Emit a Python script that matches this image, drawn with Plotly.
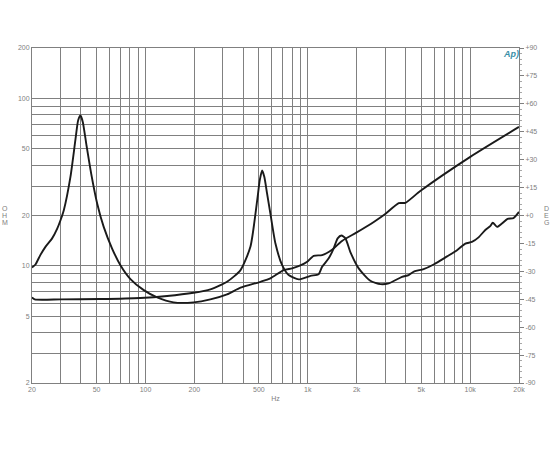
import plotly.graph_objects as go

freq_a = [20, 21, 22.5, 24.2, 26.6, 28.6, 30, 31.4, 34.5, 37, 38.5, 39.8, 41.1, 43.3, 46.3, 50.4, 55.3, 62.3, 70.1, 80.8, 97.6, 118, 149, 198, 251, 318, 385, 511, 588, 710, 800, 900, 991, 1087, 1225, 1410, 1625, 1990, 2550, 3000, 3630, 3990, 4930, 10020, 20000]
ohm_a = [9.8, 10.2, 11.6, 13.0, 14.6, 16.7, 18.8, 21.5, 34, 56.3, 74, 79, 72.4, 52.6, 35.6, 23.6, 17.1, 12.7, 10.1, 8.35, 7.17, 6.49, 6.06, 6.06, 6.31, 6.76, 7.41, 8.04, 8.43, 9.44, 9.67, 10.07, 10.6, 11.5, 11.6, 12.5, 14.1, 15.8, 18.3, 20.4, 23.7, 23.8, 28, 44.8, 67.6]

freq_b = [20, 20.8, 30, 52.8, 93, 136, 198, 251, 318, 385, 443, 488, 506, 523, 540, 561, 588, 632, 695, 762, 879, 1038, 1167, 1225, 1345, 1442, 1527, 1610, 1705, 1829, 2058, 2427, 2800, 3150, 3810, 4180, 4530, 5170, 5960, 7210, 8300, 9340, 10260, 11270, 12400, 13300, 13800, 14650, 15700, 17000, 18500, 20000]
ohm_b = [6.49, 6.31, 6.31, 6.34, 6.43, 6.61, 6.91, 7.24, 8.04, 9.44, 13, 24.7, 32.5, 37.1, 34, 27.1, 20.6, 13.6, 10.1, 8.82, 8.31, 8.73, 8.93, 9.88, 11.1, 12.7, 14.6, 15.2, 14.6, 12.1, 9.67, 8.15, 7.79, 7.87, 8.61, 8.82, 9.27, 9.57, 10.2, 11.4, 12.4, 13.6, 13.9, 14.8, 16.4, 17.3, 18.1, 17.1, 17.9, 19.1, 19.3, 21]

x_grid = [20, 30, 40, 50, 60, 70, 80, 90, 100, 200, 300, 400, 500, 600, 700, 800, 900, 1000, 2000, 3000, 4000, 5000, 6000, 7000, 8000, 9000, 10000, 20000]
x_labels = {20: "20", 50: "50", 100: "100", 200: "200", 500: "500", 1000: "1k", 2000: "2k", 5000: "5k", 10000: "10k", 20000: "20k"}
y_grid = [2, 3, 4, 5, 6, 7, 8, 9, 10, 20, 30, 40, 50, 60, 70, 80, 90, 100, 200]
y_labels = {2: "2", 5: "5", 10: "10", 20: "20", 50: "50", 100: "100", 200: "200"}
deg_ticks = [90, 75, 60, 45, 30, 15, 0, -15, -30, -45, -60, -75, -90]
deg_range = [-90, 90]
left_title = ["O", "H", "M"]
right_title = ["D", "E", "G"]

GRID = "#808080"
LABEL = "#808080"
CURVE = "#1a1a1a"
FONT = dict(family="Liberation Sans", size=7, color=LABEL)
PLOT_W = 487.2
PLOT_H = 335.3

fig = go.Figure()
fig.add_trace(go.Scatter(x=freq_a, y=ohm_a, mode="lines", line=dict(color=CURVE, width=1.9, shape="spline", smoothing=0.6), showlegend=False))
fig.add_trace(go.Scatter(x=freq_b, y=ohm_b, mode="lines", line=dict(color=CURVE, width=1.9, shape="spline", smoothing=0.6), showlegend=False))
fig.add_trace(go.Scatter(x=[20, 20], y=deg_range, yaxis="y2", mode="lines", line=dict(width=0), hoverinfo="skip", showlegend=False))

fig.update_layout(
    width=550, height=450,
    margin=dict(l=31.5, r=31.3, t=47.7, b=67),
    paper_bgcolor="white", plot_bgcolor="white",
    font=FONT,
    xaxis=dict(type="log", range=[1.30103, 4.30103], tickvals=x_grid,
               ticktext=[x_labels.get(v, "") for v in x_grid], tickangle=0,
               showgrid=True, gridcolor=GRID, gridwidth=1, ticks="", ticklen=0,
               showline=True, linecolor=GRID, mirror=True, zeroline=False,
               title=dict(text="Hz", font=FONT, standoff=3)),
    yaxis=dict(type="log", range=[0.30103, 2.30103], tickvals=y_grid,
               ticktext=[y_labels.get(v, "") for v in y_grid],
               showgrid=True, gridcolor=GRID, gridwidth=1, ticks="", ticklen=0,
               showline=True, linecolor=GRID, zeroline=False),
    yaxis2=dict(overlaying="y", side="right", range=deg_range, tickvals=deg_ticks,
                ticktext=[f"{v:+d}" for v in deg_ticks], showgrid=False, zeroline=False,
                showline=True, linecolor=GRID, ticks="outside", ticklen=4, tickcolor=GRID,
                minor=dict(dtick=3, ticks="outside", ticklen=2, tickcolor="#a8a8a8")),
)

for letters, px in ((left_title, 4), (right_title, 546)):
    for i, ch in enumerate(letters):
        fig.add_annotation(text=ch, xref="paper", yref="paper", x=(px - 31.5) / PLOT_W,
                           y=(383 - (208 + 7 * i)) / PLOT_H, xanchor="center", yanchor="middle",
                           showarrow=False, font=FONT)
fig.add_annotation(text="<i><b>Ap)</b></i>", xref="paper", yref="paper", x=(511 - 31.5) / PLOT_W,
                   y=(383 - 54) / PLOT_H, xanchor="center", yanchor="middle", showarrow=False,
                   font=dict(family="Liberation Sans", size=9, color="#3a8fa8"))

fig.write_html("out.html", config={"displayModeBar": False}, post_script="document.body.style.margin='0';")
